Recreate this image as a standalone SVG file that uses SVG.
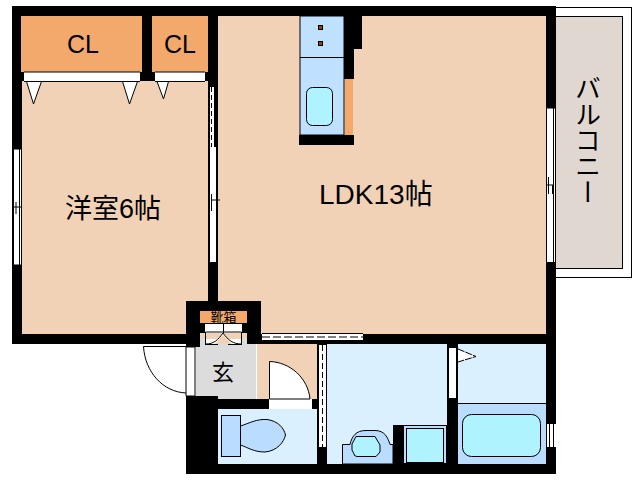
<svg xmlns="http://www.w3.org/2000/svg" width="638" height="480" viewBox="0 0 638 480">
<style>
.w{fill:#000}.p{fill:#f2d2b7}.o{fill:#f4a96c}.lb{fill:#dbf0ff}.mb{fill:#b9dcff;stroke:#000;stroke-width:1}.aq{fill:#aef3ff;stroke:#000;stroke-width:1}
.wh{fill:#fff}.ln{fill:none;stroke:#000;stroke-width:1}.dr{fill:#fff;stroke:#000;stroke-width:1}
.t{font-family:"Noto Sans CJK JP","Liberation Sans",sans-serif;fill:#000}
.l{font-family:"Liberation Sans",Arial,sans-serif;fill:#000}
</style>
<rect width="638" height="480" fill="#fff"/>
<g id="balcony">
<rect x="550.500" y="7.500" width="81" height="270" class="dr"/>
<rect x="550.500" y="16.500" width="72" height="252" fill="#e0d8d0" stroke="#000"/>
<text class="t" x="588" y="75" font-size="26" style="writing-mode:vertical-rl" text-anchor="start" dominant-baseline="central">バルコニー</text>
</g>
<g id="rooms">
<rect x="22" y="81" width="186" height="253" class="p"/>
<rect x="218" y="16" width="328" height="318" class="p"/>
<rect x="257" y="344" width="60" height="55" class="p"/>
<rect x="196" y="333" width="55" height="6" class="p"/>
<rect x="196" y="338" width="60" height="61" fill="#dcdcdc"/>
<rect x="218" y="409" width="99" height="55" class="lb"/>
<rect x="327" y="344" width="120" height="120" class="lb"/>
<rect x="458" y="344" width="88" height="120" class="lb"/>
<rect x="458" y="403.500" width="88" height="61" fill="#b9dcff"/>
<path d="M458 403.500H546" class="ln"/>
</g>
<g id="closets">
<rect x="21" y="16" width="121" height="56" class="o"/>
<rect x="152" y="16" width="56" height="56" class="o"/>
<rect x="24" y="72" width="116" height="9" class="wh"/>
<rect x="155" y="72" width="50" height="9" class="wh"/>
<path d="M26.500 81.500L33.500 104L41.500 81.500ZM122.500 81.500L129.500 104L137.500 81.500ZM157 81.500L163.500 99L168.500 81.500Z" class="dr"/>
<path d="M24 72H140M155 72H205M24 81.500H140M155 81.500H205" class="ln"/>
</g>
<g id="walls" class="w">
<rect x="12" y="6" width="544" height="10"/>
<rect x="12" y="16" width="9" height="65"/>
<rect x="12" y="72" width="12" height="9"/>
<rect x="12" y="81" width="10" height="263"/>
<rect x="12" y="334" width="176" height="10"/>
<rect x="142" y="16" width="10" height="56"/>
<rect x="140" y="72" width="15" height="9"/>
<rect x="208" y="16" width="10" height="65"/>
<rect x="205" y="72" width="13" height="9"/>
<rect x="208" y="81" width="10" height="221"/>
<rect x="546" y="16" width="10" height="458"/>
<rect x="344" y="16" width="10" height="63"/>
<rect x="354" y="16" width="8" height="33"/>
<rect x="299" y="135" width="55" height="10"/>
<rect x="186" y="301" width="75" height="10"/>
<rect x="186" y="301" width="14" height="46"/>
<rect x="247" y="301" width="14" height="43"/>
<rect x="208" y="295" width="10" height="8"/>
<rect x="200" y="323" width="47" height="10" />
<rect x="261" y="334" width="285" height="10"/>
<rect x="186" y="396" width="32" height="78"/>
<rect x="186" y="399" width="83" height="10"/>
<rect x="312" y="340" width="18" height="4"/>
<rect x="312" y="399" width="5" height="10"/>
<rect x="317" y="344" width="10" height="120"/>
<rect x="447" y="344" width="11" height="120"/>
<rect x="393" y="425" width="10" height="39"/>
<rect x="186" y="464" width="370" height="10"/>
</g>
<g id="windows-doors">
<rect x="13" y="149" width="8" height="116" class="wh"/>
<path d="M13.500 149V265M19.500 149V265M13 149H21M13 265H21M16 202V214M12 207H21" class="ln"/>
<rect x="209" y="87" width="8" height="175" class="wh"/>
<path d="M209.500 87V262M216.500 147V262M211 200H220M211.500 194V211" class="ln"/>
<path d="M211.500 87V147" fill="none" stroke="#000" stroke-dasharray="5 3"/>
<rect x="214" y="81" width="4" height="66" class="w"/>
<rect x="547" y="108" width="8" height="155" class="wh"/>
<path d="M546.500 108V262M553.500 108V262M547 108H555M547 262.500H556M548.500 177V194M547 185H554M552.500 185V194" class="ln"/>
<rect x="547" y="423" width="9" height="25" class="wh"/>
<path d="M547 423.500H556M547 447.500H556M549.500 423V448M553.500 423V448" class="ln"/>
<rect x="262" y="333" width="101" height="8" class="wh"/>
<path d="M262 333.500H363M262 340.500H363" class="ln"/>
<path d="M262 337H363" fill="none" stroke="#000" stroke-dasharray="8 3"/>
<rect x="318" y="345" width="9" height="102" class="wh"/>
<path d="M318.500 345V447M326.500 345V447" class="ln"/>
<path d="M322.500 345V447" fill="none" stroke="#000" stroke-dasharray="6 3"/>
<rect x="449" y="348" width="7" height="50" class="wh"/>
<path d="M458 349L476 356.500L458 362" fill="#fff" stroke="#000" stroke-dasharray="7 1"/>
<rect x="186" y="347" width="9" height="49" class="wh"/>
<path d="M186 347V396H195V347Z" class="ln"/>
<path d="M143.500 346.500H186M143.500 346.500C145 372 163 392 186 393" class="ln"/>
<rect x="269" y="399" width="43" height="10" class="wh"/>
<path d="M269.500 399V361.500C290 362 308 378 310 399Z" class="dr"/>
</g>
<g id="shoe-box">
<rect x="200" y="311" width="47" height="12" class="o"/>
<rect x="205" y="323" width="37" height="21" class="wh"/>
<rect x="205" y="333" width="37" height="6" class="p"/>
<path d="M205 323.500H242M223.500 323V333" class="ln"/>
<path d="M205.500 332V344M241.500 332V344M205.500 332H223M223 332H241.500M205.500 344C214 344 218 340 223 333C228 340 233 344 241.500 344M205 344.500H218M228 344.500H242" fill="#fff" stroke="#000"/>
<path d="M215 344L223 335L232 344Z" fill="#f2d2b7" stroke="none"/>
<text class="t" x="223.500" y="322" font-size="13" text-anchor="middle">靴箱</text>
</g>
<g id="kitchen">
<rect x="300" y="16" width="44" height="119" fill="#bfe0ff" stroke="#000"/>
<path d="M300 57.500H344" class="ln"/>
<rect x="318.500" y="25.500" width="4" height="4" fill="#8b4a00" stroke="#000"/>
<rect x="318.500" y="41.500" width="4" height="4" fill="#8b4a00" stroke="#000"/>
<rect x="306.500" y="87.500" width="26" height="38" rx="6" class="aq"/>
<rect x="345" y="79" width="8" height="56" class="o"/>
</g>
<g id="toilet">
<rect x="221.500" y="415.500" width="19" height="41" class="mb"/>
<path d="M240.500 426C250 423 256 419 267 419.500C278 421 284 428 285.500 435C284 442 277 451 265 452C254 452 249 448 240.500 445Z" class="mb"/>
</g>
<g id="washroom">
<path d="M342.500 464V444.500H350C352 436 356 430.500 366 430.500H375C385 430.500 388 438 390 444.500H393V464Z" class="mb"/>
<path d="M356 436.500H375L380 445V452L376 456.500H357L355.500 456L355 456L352 450V444Z" class="aq"/>
<rect x="403.500" y="425.500" width="43" height="38" class="mb"/>
<rect x="406.500" y="428.500" width="37" height="34" class="aq"/>
<rect x="462.500" y="414.500" width="78" height="42" rx="9" class="aq"/>
</g>
<g id="labels">
<text class="l" x="83" y="53" font-size="25" text-anchor="middle">CL</text>
<text class="l" x="180" y="53" font-size="25" text-anchor="middle">CL</text>
<text class="t" x="65" y="218" font-size="27">洋室<tspan font-family="Liberation Sans">6</tspan>帖</text>
<text class="t" x="319" y="204" font-size="28"><tspan font-family="Liberation Sans">LDK13</tspan>帖</text>
<text class="t" x="223" y="380" font-size="22" text-anchor="middle">玄</text>
</g>
</svg>
